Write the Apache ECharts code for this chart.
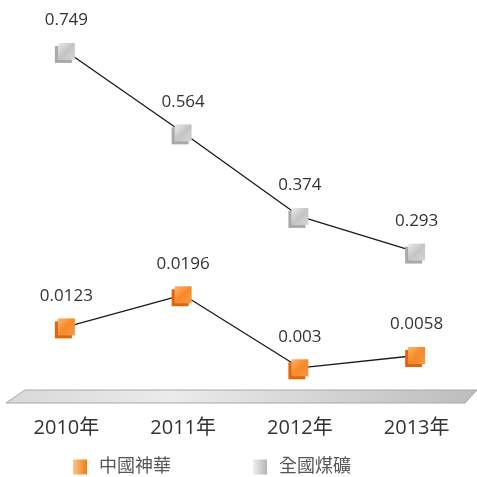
<!DOCTYPE html>
<html>
<head>
<meta charset="utf-8">
<script src="https://cdn.jsdelivr.net/npm/echarts@6/dist/echarts.min.js"></script>
<style>
html, body { margin: 0; padding: 0; background: #fff; }
#main { width: 477px; height: 477px; }
</style>
</head>
<body>
<div id="main"></div>
<script>
var years = ['2010年', '2011年', '2012年', '2013年'];
var shenhua = [0.0123, 0.0196, 0.003, 0.0058];   // 中國神華
var national = [0.749, 0.564, 0.374, 0.293];     // 全國煤礦
var seriesNames = ['中國神華', '全國煤礦'];

var FONT = "'Open Sans', 'Noto Sans CJK TC', sans-serif";

var orangeFill = new echarts.graphic.LinearGradient(0, 0, 1, 1, [
	{ offset: 0, color: '#ffb36a' },
	{ offset: 0.5, color: '#f7892a' },
	{ offset: 1, color: '#f39a45' }
]);
var greyFill = new echarts.graphic.LinearGradient(0, 0, 1, 1, [
	{ offset: 0, color: '#ececec' },
	{ offset: 0.5, color: '#c4c4c4' },
	{ offset: 1, color: '#d6d6d6' }
]);
var orangeLegend = new echarts.graphic.LinearGradient(0, 0, 1, 0, [
	{ offset: 0, color: '#fcc48f' },
	{ offset: 1, color: '#f07d14' }
]);
var greyLegend = new echarts.graphic.LinearGradient(0, 0, 1, 0, [
	{ offset: 0, color: '#f0f0f0' },
	{ offset: 1, color: '#b4b4b4' }
]);

function lineSeries(name, data, axisIdx, fill, shadow) {
	return {
		name: name,
		type: 'line',
		yAxisIndex: axisIdx,
		data: data,
		symbol: 'rect',
		symbolSize: 17,
		showAllSymbol: true,
		lineStyle: { color: '#1a1a1a', width: 1.3 },
		itemStyle: {
			color: fill,
			borderWidth: 0,
			shadowColor: shadow,
			shadowBlur: 0,
			shadowOffsetX: -3,
			shadowOffsetY: 3
		},
		label: {
			show: true,
			position: 'top',
			distance: 14,
			color: '#333',
			fontSize: 17,
			fontFamily: FONT,
			formatter: function(p) { return String(p.value); }
		},
		emphasis: { disabled: true },
		animation: false
	};
}

var myChart = echarts.init(document.getElementById('main'));
var option = {
	backgroundColor: '#fff',
	grid: { left: 8, right: 2, top: 29, bottom: 96 },
	legend: {
		bottom: 1,
		left: 73,
		padding: 0,
		itemGap: 82,
		itemWidth: 14,
		itemHeight: 15,
		icon: 'rect',
		textStyle: { color: '#555', fontSize: 18, fontFamily: FONT, padding: [0, 0, 0, 7] },
		data: [
			{ name: seriesNames[0], itemStyle: { color: orangeLegend } },
			{ name: seriesNames[1], itemStyle: { color: greyLegend } }
		]
	},
	xAxis: {
		type: 'category',
		data: years,
		boundaryGap: true,
		axisLine: { show: false },
		axisTick: { show: false },
		axisLabel: { color: '#333', fontSize: 20, fontFamily: FONT, margin: 37 }
	},
	yAxis: [
		{ type: 'value', min: 0, max: 0.8, show: false },
		{ type: 'value', min: 0, max: 0.08, show: false }
	],
	graphic: [{
		type: 'polygon',
		z: -1,
		shape: { points: [[25, 390], [477, 390], [465, 403], [6, 403]] },
		style: {
			fill: new echarts.graphic.LinearGradient(0, 0, 1, 0, [
				{ offset: 0, color: '#d8d8d8' },
				{ offset: 0.35, color: '#ebebeb' },
				{ offset: 1, color: '#bdbdbd' }
			]),
			stroke: '#a8a8a8',
			lineWidth: 1
		}
	}],
	series: [
		lineSeries(seriesNames[0], shenhua, 1, orangeFill, '#e0660c'),
		lineSeries(seriesNames[1], national, 0, greyFill, '#a9a9a9')
	]
};
myChart.setOption(option);
</script>
</body>
</html>
